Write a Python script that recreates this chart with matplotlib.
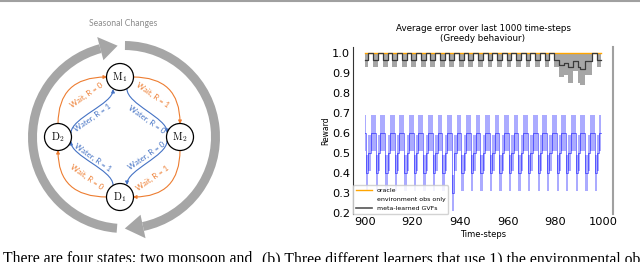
import numpy as np
import matplotlib.pyplot as plt
from matplotlib.patches import Wedge, Polygon, Circle, FancyArrowPatch
from matplotlib.path import Path
from matplotlib.lines import Line2D

plt.rcParams['mathtext.fontset'] = 'cm'

H = 262  # figure height in px, the diagram is laid out in pixel coords

# ---- right panel data ----
steps = list(range(900, 1000))

oracle_mean = [
    1.0, 1.0, 1.0, 1.0, 1.0, 1.0, 1.0, 1.0, 1.0, 1.0, 1.0, 1.0, 1.0, 1.0, 1.0, 1.0, 1.0, 1.0, 1.0, 1.0,
    1.0, 1.0, 1.0, 1.0, 1.0, 1.0, 1.0, 1.0, 1.0, 1.0, 1.0, 1.0, 1.0, 1.0, 1.0, 1.0, 1.0, 1.0, 1.0, 1.0,
    1.0, 1.0, 1.0, 1.0, 1.0, 1.0, 1.0, 1.0, 1.0, 1.0, 1.0, 1.0, 1.0, 1.0, 1.0, 1.0, 1.0, 1.0, 1.0, 1.0,
    1.0, 1.0, 1.0, 1.0, 1.0, 1.0, 1.0, 1.0, 1.0, 1.0, 1.0, 1.0, 1.0, 1.0, 1.0, 1.0, 1.0, 1.0, 1.0, 1.0,
    1.0, 1.0, 1.0, 1.0, 1.0, 1.0, 1.0, 1.0, 1.0, 1.0, 1.0, 1.0, 1.0, 1.0, 1.0, 1.0, 1.0, 1.0, 1.0, 1.0,
]

env_mean = [
    0.6, 0.4, 0.5, 0.6, 0.6, 0.4, 0.5, 0.6, 0.6, 0.4, 0.5, 0.6, 0.6, 0.4, 0.5, 0.6, 0.6, 0.4, 0.5, 0.6,
    0.6, 0.4, 0.5, 0.6, 0.6, 0.4, 0.5, 0.6, 0.6, 0.4, 0.5, 0.6, 0.6, 0.4, 0.5, 0.6, 0.6, 0.3, 0.5, 0.6,
    0.6, 0.4, 0.5, 0.6, 0.6, 0.4, 0.5, 0.6, 0.6, 0.4, 0.5, 0.6, 0.6, 0.4, 0.5, 0.6, 0.6, 0.4, 0.5, 0.6,
    0.6, 0.4, 0.5, 0.6, 0.6, 0.4, 0.5, 0.6, 0.6, 0.4, 0.5, 0.6, 0.6, 0.4, 0.5, 0.6, 0.6, 0.4, 0.5, 0.6,
    0.6, 0.4, 0.5, 0.6, 0.6, 0.4, 0.5, 0.6, 0.6, 0.4, 0.5, 0.6, 0.6, 0.4, 0.5, 0.6, 0.6, 0.4, 0.5, 0.6,
]
env_std = [
    0.09, 0.09, 0.09, 0.09, 0.09, 0.09, 0.09, 0.09, 0.09, 0.09, 0.09, 0.09, 0.09, 0.09, 0.09, 0.09, 0.09, 0.09, 0.09, 0.09,
    0.09, 0.09, 0.09, 0.09, 0.09, 0.09, 0.09, 0.09, 0.09, 0.09, 0.09, 0.09, 0.09, 0.09, 0.09, 0.09, 0.09, 0.09, 0.09, 0.09,
    0.09, 0.09, 0.09, 0.09, 0.09, 0.09, 0.09, 0.09, 0.09, 0.09, 0.09, 0.09, 0.09, 0.09, 0.09, 0.09, 0.09, 0.09, 0.09, 0.09,
    0.09, 0.09, 0.09, 0.09, 0.09, 0.09, 0.09, 0.09, 0.09, 0.09, 0.09, 0.09, 0.09, 0.09, 0.09, 0.09, 0.09, 0.09, 0.09, 0.09,
    0.09, 0.09, 0.09, 0.09, 0.09, 0.09, 0.09, 0.09, 0.09, 0.09, 0.09, 0.09, 0.09, 0.09, 0.09, 0.09, 0.09, 0.09, 0.09, 0.09,
]

gvf_mean = [
    0.965, 0.965, 1.0, 1.0, 0.965, 0.965, 1.0, 1.0, 0.965, 0.965, 1.0, 1.0, 0.965, 0.965, 1.0, 1.0, 0.965, 0.965, 1.0, 1.0,
    0.965, 0.965, 1.0, 1.0, 0.965, 0.965, 1.0, 1.0, 0.965, 0.965, 1.0, 1.0, 0.965, 0.965, 1.0, 1.0, 0.965, 0.965, 1.0, 1.0,
    0.965, 0.965, 1.0, 1.0, 0.965, 0.965, 1.0, 1.0, 0.965, 0.965, 1.0, 1.0, 0.965, 0.965, 1.0, 1.0, 0.965, 0.965, 1.0, 1.0,
    0.965, 0.965, 1.0, 1.0, 0.965, 0.965, 1.0, 1.0, 0.965, 0.965, 1.0, 1.0, 0.965, 0.965, 1.0, 1.0, 0.965, 0.965, 1.0, 1.0,
    0.965, 0.965, 0.94, 0.94, 0.95, 0.95, 0.93, 0.93, 0.96, 0.96, 0.93, 0.92, 0.92, 0.96, 0.96, 0.96, 1.0, 1.0, 0.965, 0.965,
]
gvf_std = [
    0.035, 0.035, 0.0, 0.0, 0.035, 0.035, 0.0, 0.0, 0.035, 0.035, 0.0, 0.0, 0.035, 0.035, 0.0, 0.0, 0.035, 0.035, 0.0, 0.0,
    0.035, 0.035, 0.0, 0.0, 0.035, 0.035, 0.0, 0.0, 0.035, 0.035, 0.0, 0.0, 0.035, 0.035, 0.0, 0.0, 0.035, 0.035, 0.0, 0.0,
    0.035, 0.035, 0.0, 0.0, 0.035, 0.035, 0.0, 0.0, 0.035, 0.035, 0.0, 0.0, 0.035, 0.035, 0.0, 0.0, 0.035, 0.035, 0.0, 0.0,
    0.035, 0.035, 0.0, 0.0, 0.035, 0.035, 0.0, 0.0, 0.035, 0.035, 0.0, 0.0, 0.035, 0.035, 0.0, 0.0, 0.035, 0.035, 0.0, 0.0,
    0.035, 0.035, 0.06, 0.06, 0.06, 0.06, 0.08, 0.08, 0.05, 0.05, 0.08, 0.08, 0.08, 0.07, 0.07, 0.07, 0.0, 0.0, 0.035, 0.035,
]

x_ticks = [900, 920, 940, 960, 980, 1000]
y_ticks = [0.2, 0.3, 0.4, 0.5, 0.6, 0.7, 0.8, 0.9, 1.0]
legend_labels = ['oracle', 'environment obs only', 'meta-learned GVFs']

# ---- left panel: MDP diagram (pixel positions, y measured from the top) ----
node_names = [r'$\mathrm{M}_1$', r'$\mathrm{M}_2$', r'$\mathrm{D}_1$', r'$\mathrm{D}_2$']
node_xy = [(120, 77), (180, 137), (120, 197), (58, 137)]

wait_edges = [  # start, control, end
    ((133, 77), (180, 77), (180, 124)),
    ((180, 150), (180, 197), (133, 197)),
    ((107, 197), (58, 197), (58, 150)),
    ((58, 124), (58, 77), (107, 77)),
]
water_edges = [  # cubic s-curves
    ((127, 89), (127, 104), (167, 118), (167, 133)),
    ((167, 141), (167, 156), (127, 170), (127, 185)),
    ((113, 185), (113, 170), (71, 156), (71, 141)),
    ((71, 133), (71, 118), (113, 104), (113, 89)),
]
wait_labels = ['Wait, R = 1', 'Wait, R = 1', 'Wait, R = 0', 'Wait, R = 0']
wait_label_xy = [(153, 95), (153, 178), (87, 177), (87, 95)]
water_labels = ['Water, R = 0', 'Water, R = 0', 'Water, R = 1', 'Water, R = 1']
water_label_xy = [(147, 119), (147, 156), (93, 157), (93, 118)]
label_rot = [-35, 35, -35, 35]

ORANGE = '#ed7d31'
BLUE = '#4472c4'
RING = '#a6a6a6'


def px(p):
    return (p[0], H - p[1])


def ring_head(ax, c, r, w, theta_base, theta_tip):
    tb, tt = np.radians(theta_base), np.radians(theta_tip)
    pts = [(c[0] + (r + w) * np.cos(tb), c[1] + (r + w) * np.sin(tb)),
           (c[0] + (r - w) * np.cos(tb), c[1] + (r - w) * np.sin(tb)),
           (c[0] + r * np.cos(tt), c[1] + r * np.sin(tt))]
    ax.add_patch(Polygon(pts, closed=True, color=RING, lw=0))


fig = plt.figure(figsize=(6.4, 2.62), dpi=100)

ax0 = fig.add_axes([0, 0, 1, 1])
ax0.set_xlim(0, 640)
ax0.set_ylim(0, H)
ax0.axis('off')

ax0.plot([0, 640], [H - 0.5, H - 0.5], color='#a0a0a0', lw=1.5)

# seasonal ring
c = px((124, 137))
ax0.add_patch(Wedge(c, 96, -78, 89.4, width=9, color=RING, lw=0))
ax0.add_patch(Wedge(c, 96, 105, 265.6, width=9, color=RING, lw=0))
ring_head(ax0, c, 91.5, 12, -78, -89.5)
ring_head(ax0, c, 91.5, 12, 105, 94)
ax0.text(*px((123, 24)), 'Seasonal Changes', color='#8c8c8c', fontsize=6.2,
         family='Lato', ha='center', va='center')

for (a, b, e) in wait_edges:
    path = Path([px(a), px(b), px(e)], [Path.MOVETO, Path.CURVE3, Path.CURVE3])
    ax0.add_patch(FancyArrowPatch(path=path, arrowstyle='-|>', mutation_scale=5,
                                  color=ORANGE, lw=0.8))
for (a, b, d, e) in water_edges:
    path = Path([px(a), px(b), px(d), px(e)],
                [Path.MOVETO, Path.CURVE4, Path.CURVE4, Path.CURVE4])
    ax0.add_patch(FancyArrowPatch(path=path, arrowstyle='-|>', mutation_scale=5,
                                  color=BLUE, lw=0.8))

for lab, xy, rot in zip(wait_labels, wait_label_xy, label_rot):
    ax0.text(*px(xy), lab, color=ORANGE, fontsize=5.6, family='Lato',
             rotation=rot, ha='center', va='center', rotation_mode='anchor')
for lab, xy, rot in zip(water_labels, water_label_xy, label_rot):
    ax0.text(*px(xy), lab, color=BLUE, fontsize=5.6, family='Lato',
             rotation=rot, ha='center', va='center', rotation_mode='anchor')

for name, xy in zip(node_names, node_xy):
    ax0.add_patch(Circle(px(xy), 13.5, facecolor='white', edgecolor='black', lw=0.9, zorder=3))
    ax0.text(*px(xy), name, fontsize=7.5, ha='center', va='center', zorder=4)

# caption fragments, cut by the bottom edge like in the page
ax0.text(3, -1, 'There are four states; two monsoon and', family='Liberation Serif',
         fontsize=11.3, va='baseline')
ax0.text(262, -1, '(b) Three different learners that use 1) the environmental obs',
         family='Liberation Serif', fontsize=11.3, va='baseline')

# ---- right panel: reward curves ----
ax = fig.add_axes([353 / 640, 1 - 214 / H, 260 / 640, 167 / H])

oracle = np.array(oracle_mean)
env_m, env_s = np.array(env_mean), np.array(env_std)
gvf_m, gvf_s = np.array(gvf_mean), np.array(gvf_std)

ax.fill_between(steps, gvf_m - gvf_s, np.minimum(gvf_m + gvf_s, 1.0), step='mid',
                color='gray', alpha=0.7, lw=0)
ax.fill_between(steps, env_m - env_s, env_m + env_s, step='mid',
                color='blue', alpha=0.33, lw=0)
ax.plot(steps, oracle, color='orange', lw=1.0, drawstyle='steps-mid')
ax.plot(steps, env_m, color='blue', alpha=0.5, lw=0.7, drawstyle='steps-mid')
ax.plot(steps, gvf_m, color='#3a3a3a', lw=0.9, drawstyle='steps-mid')

ax.set_xlim(895, 1004.2)
ax.set_ylim(0.195, 1.03)
ax.set_xticks(x_ticks)
ax.set_yticks(y_ticks)
ax.set_yticklabels(['%.1f' % v for v in y_ticks])
ax.tick_params(length=0, labelsize=8.2, pad=2)
ax.spines['top'].set_visible(False)
ax.spines['bottom'].set_visible(False)
ax.spines['left'].set_color('#333333')
ax.spines['left'].set_linewidth(0.8)
ax.spines['right'].set_color('#a0a0a0')
ax.spines['right'].set_linewidth(1.5)

ax.set_title('Average error over last 1000 time-steps\n(Greedy behaviour)',
             fontsize=6.3, pad=4, linespacing=1.15)
ax.set_xlabel('Time-steps', fontsize=6, labelpad=2)
ax.set_ylabel('Reward', fontsize=5.5, labelpad=1.5)

handles = [Line2D([], [], color='orange', lw=1.0),
           Line2D([], [], color='none'),
           Line2D([], [], color='#555555', lw=1.2)]
ax.legend(handles, legend_labels, loc='lower left', fontsize=4.5, borderaxespad=0,
          handlelength=2.6, framealpha=0.85, edgecolor='#cccccc', labelspacing=0.6)

fig.savefig('out.png', dpi=100)
